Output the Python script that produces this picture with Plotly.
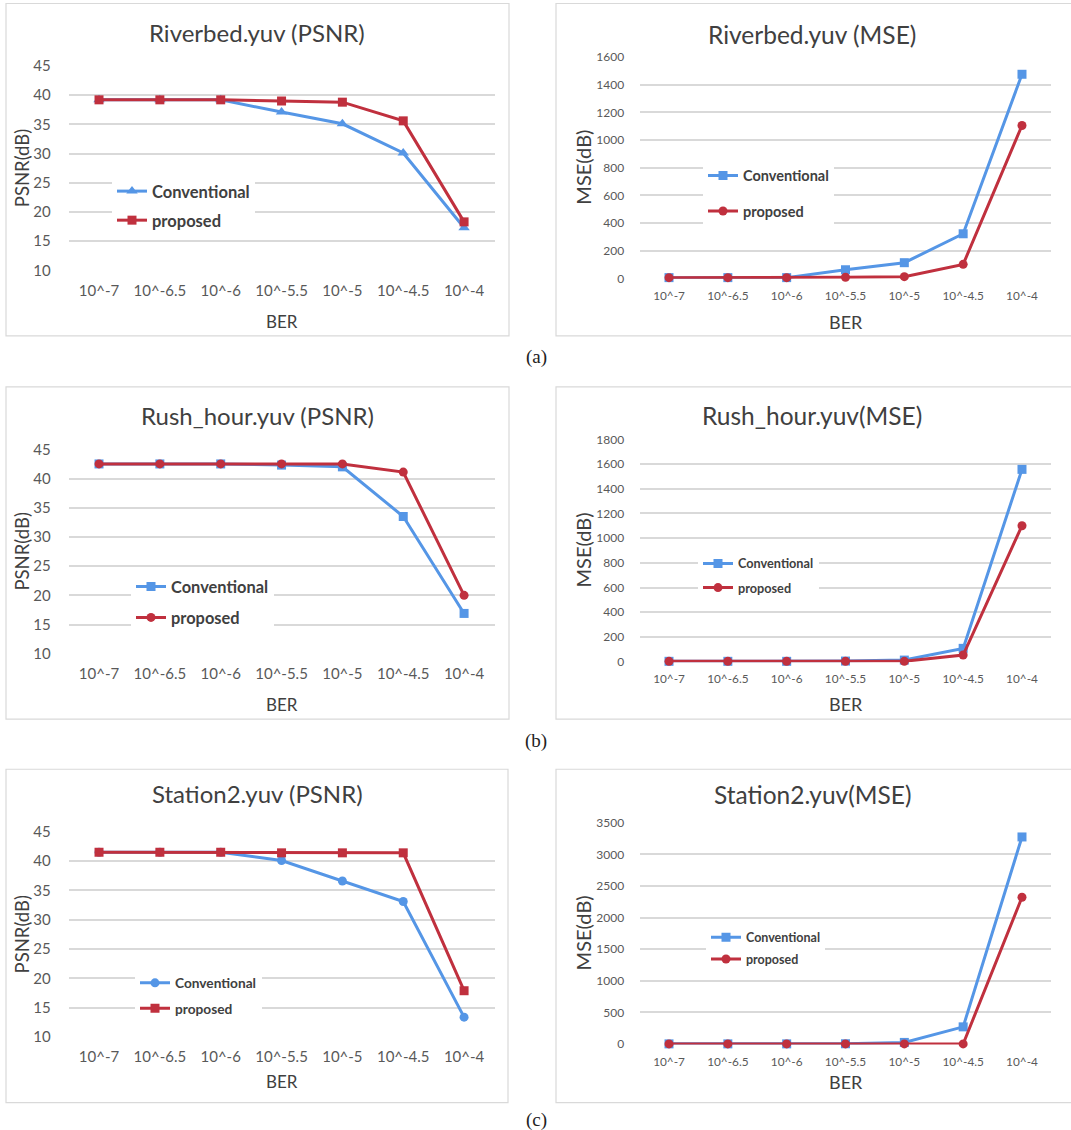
import plotly.graph_objects as go

# ---------------- data ----------------
categories = ["10^-7", "10^-6.5", "10^-6", "10^-5.5", "10^-5", "10^-4.5", "10^-4"]

riverbed_psnr_conv = [39.2, 39.2, 39.2, 37.1, 35.1, 30.1, 17.3]
riverbed_psnr_prop = [39.2, 39.2, 39.2, 39.0, 38.8, 35.6, 18.3]
riverbed_mse_conv = [5, 5, 5, 62, 113, 322, 1475]
riverbed_mse_prop = [5, 5, 5, 8, 12, 101, 1105]

rush_psnr_conv = [42.5, 42.5, 42.5, 42.3, 42.0, 33.5, 16.9]
rush_psnr_prop = [42.5, 42.5, 42.5, 42.5, 42.5, 41.1, 20.0]
rush_mse_conv = [3, 3, 3, 5, 13, 108, 1557]
rush_mse_prop = [3, 3, 3, 3, 3, 54, 1101]

station_psnr_conv = [41.5, 41.5, 41.5, 40.1, 36.6, 33.1, 13.4]
station_psnr_prop = [41.5, 41.5, 41.5, 41.4, 41.4, 41.4, 17.9]
station_mse_conv = [3, 3, 3, 5, 26, 272, 3275]
station_mse_prop = [2, 2, 2, 2, 2, 2, 2321]

series_names = ["Conventional", "proposed"]
panel_titles = ["Riverbed.yuv (PSNR)", "Riverbed.yuv (MSE)",
                "Rush_hour.yuv (PSNR)", "Rush_hour.yuv(MSE)",
                "Station2.yuv (PSNR)", "Station2.yuv(MSE)"]
y_titles = ["PSNR(dB)", "MSE(dB)"] * 3
x_title = "BER"
row_labels = ["(a)", "(b)", "(c)"]
psnr_ticks = [10, 15, 20, 25, 30, 35, 40, 45]
mse_ticks_a = [0, 200, 400, 600, 800, 1000, 1200, 1400, 1600]
mse_ticks_b = [0, 200, 400, 600, 800, 1000, 1200, 1400, 1600, 1800]
mse_ticks_c = [0, 500, 1000, 1500, 2000, 2500, 3000, 3500]

# ---------------- layout helpers ----------------
W, H = 1071, 1130
BLUE = "#5596E6"
RED = "#C0303E"
GRID = "#D9D9D9"
TXT = "#595959"
DARK = "#404040"
FONT = "Lato"


def Y(v):
    # vertical pixel position in the final picture -> page pixel
    return (v - 9.5) / 0.984


def xd(a, b):
    return [a / W, b / W]


def yd(top, bottom):
    return [1 - Y(bottom) / H, 1 - Y(top) / H]


def py(v):
    return 1 - Y(v) / H


panels = [
    dict(conv=riverbed_psnr_conv, prop=riverbed_psnr_prop, cs="triangle-up", ps="square",
         ticks=psnr_ticks, box=(6, 509, 4, 336), area=(68.6, 494.5, 66, 271),
         title_y=33, title_x=257, title_size=24, tick_size=15, xtick_size=15,
         ytitle_x=22, ytitle_size=18.5, ber_y=322, ber_size=17,
         leg=(112, 167.4, 16.5, 4.6), lbl_standoff=14),
    dict(conv=riverbed_mse_conv, prop=riverbed_mse_prop, cs="square", ps="circle",
         ticks=mse_ticks_a, box=(556, 1075, 4, 336), area=(639.6, 1051.4, 57, 279),
         title_y=35, title_x=812, title_size=24.5, tick_size=12, xtick_size=11.8,
         ytitle_x=583, ytitle_size=20, ber_y=322, ber_size=18,
         leg=(703, 153, 14.5, 13.5), lbl_standoff=12),
    dict(conv=rush_psnr_conv, prop=rush_psnr_prop, cs="square", ps="circle",
         ticks=psnr_ticks, box=(6, 509, 387, 719), area=(68.6, 494.5, 449, 654),
         title_y=416, title_x=257, title_size=24, tick_size=15, xtick_size=15,
         ytitle_x=22, ytitle_size=18.5, ber_y=704, ber_size=17,
         leg=(131, 569, 16.4, 6.5), lbl_standoff=14),
    dict(conv=rush_mse_conv, prop=rush_mse_prop, cs="square", ps="circle",
         ticks=mse_ticks_b, box=(556, 1075, 387, 719), area=(639.6, 1051.4, 439, 662),
         title_y=416, title_x=812, title_size=24.5, tick_size=12, xtick_size=11.8,
         ytitle_x=583, ytitle_size=20, ber_y=704, ber_size=18,
         leg=(698, 548, 12.7, 4.6), lbl_standoff=12),
    dict(conv=station_psnr_conv, prop=station_psnr_prop, cs="circle", ps="square",
         ticks=psnr_ticks, box=(6, 508, 769, 1102), area=(68.6, 494.5, 831, 1037),
         title_y=793, title_x=257, title_size=24, tick_size=15, xtick_size=15,
         ytitle_x=22, ytitle_size=18.5, ber_y=1081, ber_size=17,
         leg=(135, 973.1, 13.7, 4.5), lbl_standoff=14),
    dict(conv=station_mse_conv, prop=station_mse_prop, cs="square", ps="circle",
         ticks=mse_ticks_c, box=(556, 1075, 769, 1102), area=(639.6, 1051.4, 822, 1044),
         title_y=794, title_x=812, title_size=24.5, tick_size=12, xtick_size=11.8,
         ytitle_x=583, ytitle_size=20, ber_y=1081, ber_size=18,
         leg=(706, 927.5, 12.5, 2.6), lbl_standoff=12),
]

fig = go.Figure()
layout = dict(
    width=W, height=H, margin=dict(l=0, r=0, t=0, b=0),
    paper_bgcolor="white", plot_bgcolor="rgba(0,0,0,0)",
    showlegend=True, font=dict(family=FONT, color=TXT),
)
shapes = []
annotations = []

for i, p in enumerate(panels):
    n = i + 1
    xa = "x" if n == 1 else f"x{n}"
    ya = "y" if n == 1 else f"y{n}"
    lg = "legend" if n == 1 else f"legend{n}"
    for name, vals, color, sym in [(series_names[0], p["conv"], BLUE, p["cs"]),
                                   (series_names[1], p["prop"], RED, p["ps"])]:
        fig.add_trace(go.Scatter(
            x=categories, y=vals, name=name, mode="lines+markers",
            line=dict(color=color, width=3),
            marker=dict(symbol=sym, size=9 if sym != "triangle-up" else 10, color=color),
            xaxis=xa, yaxis=ya, legend=lg, legendgroup=f"{n}-{name}",
            cliponaxis=False,
        ))
    x0, x1, yt, yb = p["area"]
    t = p["ticks"]
    span = t[-1] - t[0]
    pad = span * 0.002
    layout["xaxis" if n == 1 else f"xaxis{n}"] = dict(
        domain=xd(x0, x1), anchor=ya, type="category",
        range=[-0.5, 6.5], showgrid=False, zeroline=False, showline=False,
        tickfont=dict(size=p["xtick_size"], color=TXT, family=FONT),
        ticks="outside", ticklen=6, tickcolor="rgba(0,0,0,0)",
        fixedrange=True,
    )
    layout["yaxis" if n == 1 else f"yaxis{n}"] = dict(
        domain=yd(yt, yb), anchor=xa, range=[t[0] - pad, t[-1] + pad],
        tickvals=t, ticktext=[str(v) for v in t],
        showgrid=True, gridcolor=GRID, gridwidth=1.5, zeroline=False, showline=False,
        tickfont=dict(size=p["tick_size"], color=TXT, family=FONT),
        ticks="outside", ticklen=p["lbl_standoff"], tickcolor="rgba(0,0,0,0)",
        fixedrange=True,
    )
    bx0, bx1, by0, by1 = p["box"]
    shapes.append(dict(type="rect", xref="paper", yref="paper", layer="below",
                       x0=bx0 / W, x1=bx1 / W, y0=py(by1), y1=py(by0),
                       line=dict(color="#D9D9D9", width=1.2), fillcolor="white"))
    annotations.append(dict(text=panel_titles[i], xref="paper", yref="paper",
                            x=p["title_x"] / W, y=py(p["title_y"]),
                            xanchor="center", yanchor="middle", showarrow=False,
                            font=dict(size=p["title_size"], color=DARK, family=FONT)))
    annotations.append(dict(text=y_titles[i], xref="paper", yref="paper",
                            x=p["ytitle_x"] / W, y=py((yt + yb) / 2), textangle=-90,
                            xanchor="center", yanchor="middle", showarrow=False,
                            font=dict(size=p["ytitle_size"], color=DARK, family=FONT)))
    annotations.append(dict(text=x_title, xref="paper", yref="paper",
                            x=((x0 + x1) / 2) / W, y=py(p["ber_y"]),
                            xanchor="center", yanchor="middle", showarrow=False,
                            font=dict(size=p["ber_size"], color=DARK, family=FONT)))
    lx, ly, lfs, lgap = p["leg"]
    layout[lg] = dict(
        x=lx / W, y=1 - ly / H, xanchor="left", yanchor="top",
        xref="paper", yref="paper",
        bgcolor="white", borderwidth=0, traceorder="grouped", tracegroupgap=lgap,
        font=dict(size=lfs, color=DARK, family=FONT, weight="bold"),
        itemclick=False, itemdoubleclick=False,
    )

for j, (lab, ypx) in enumerate(zip(row_labels, [357, 741, 1119])):
    annotations.append(dict(text=lab, xref="paper", yref="paper",
                            x=536 / W, y=py(ypx), xanchor="center", yanchor="middle",
                            showarrow=False,
                            font=dict(size=19, color="#222222", family="Liberation Serif")))

layout["shapes"] = shapes
layout["annotations"] = annotations
fig.update_layout(**layout)

fix_page = (
    "document.documentElement.style.margin='0';"
    "document.documentElement.style.padding='0';"
    "document.documentElement.style.overflow='hidden';"
    "document.body.style.margin='0';"
    "document.body.style.padding='0';"
    "document.body.style.overflow='hidden';"
    "var gd=document.getElementById('{plot_id}');"
    "gd.style.position='absolute';gd.style.left='0px';gd.style.top='0px';"
)
fig.write_html("out.html", config={"displayModeBar": False}, post_script=fix_page)
